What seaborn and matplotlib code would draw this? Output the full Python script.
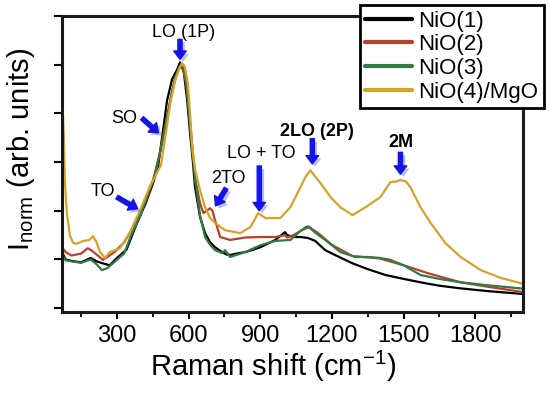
import pandas as pd
import seaborn as sns
import matplotlib.pyplot as plt
import matplotlib.patheffects as pe
from matplotlib.ticker import MultipleLocator, NullFormatter

# Raman spectra (shift in cm-1, normalised intensity)
nio1_x = [70, 85, 110, 150, 190, 215, 240, 270, 300, 340, 380, 420, 450, 472, 493, 510, 531, 552, 564,
          580, 594, 608, 618, 627, 648, 669, 690, 711, 740, 760, 774, 800, 837, 870, 900, 963, 1004,
          1012, 1040, 1068, 1100, 1130, 1172, 1230, 1286, 1350, 1424, 1500, 1592, 1650, 1731, 1850, 2000]
nio1_y = [1.15, 1.0, 0.97, 0.94, 1.03, 0.96, 0.92, 0.88, 1.03, 1.2, 1.7, 2.15, 2.55, 2.9, 3.65, 4.27, 4.7,
          4.9, 5.05, 4.85, 4.27, 3.5, 3.0, 2.48, 1.87, 1.54, 1.35, 1.25, 1.15, 1.1, 1.09, 1.12, 1.15, 1.2,
          1.25, 1.4, 1.56, 1.5, 1.46, 1.46, 1.44, 1.38, 1.19, 1.05, 0.92, 0.8, 0.68, 0.6, 0.51, 0.46, 0.41,
          0.35, 0.29]

nio2_x = [70, 85, 110, 150, 178, 195, 215, 241, 260, 290, 330, 380, 420, 450, 480, 500, 525, 545, 560, 572,
          590, 605, 618, 630, 648, 662, 690, 700, 711, 732, 774, 837, 900, 963, 1004, 1012, 1040, 1080,
          1105, 1140, 1200, 1286, 1400, 1500, 1600, 1739, 1850, 2000]
nio2_y = [1.25, 1.15, 1.08, 1.12, 1.23, 1.18, 1.1, 0.99, 1.05, 1.15, 1.35, 1.75, 2.2, 2.6, 3.2, 3.7, 4.3,
          4.75, 4.95, 5.02, 4.6, 3.9, 3.2, 2.6, 2.15, 1.95, 2.05, 2.0, 1.8, 1.46, 1.4, 1.45, 1.46, 1.46, 1.5,
          1.45, 1.5, 1.62, 1.66, 1.55, 1.3, 1.07, 1.02, 0.88, 0.72, 0.53, 0.44, 0.33]

nio3_x = [70, 85, 110, 150, 190, 215, 237, 260, 290, 330, 360, 397, 430, 460, 490, 510, 530, 550, 565, 578,
          592, 605, 618, 630, 648, 669, 690, 711, 740, 753, 774, 837, 900, 963, 1026, 1060, 1089, 1101,
          1130, 1172, 1236, 1298, 1350, 1403, 1445, 1500, 1571, 1650, 1739, 1850, 2000]
nio3_y = [1.1, 0.98, 0.96, 0.93, 1.0, 0.9, 0.78, 0.82, 0.95, 1.12, 1.5, 1.9, 2.35, 2.75, 3.4, 3.9, 4.45,
          4.8, 4.98, 5.0, 4.6, 3.8, 3.1, 2.55, 1.9, 1.46, 1.3, 1.19, 1.13, 1.19, 1.05, 1.15, 1.29, 1.38,
          1.4, 1.55, 1.66, 1.68, 1.55, 1.4, 1.15, 1.05, 1.05, 1.03, 0.99, 0.88, 0.68, 0.6, 0.53, 0.47, 0.4]

nio4_x = [70, 74, 78, 82, 90, 103, 115, 130, 160, 185, 200, 215, 229, 250, 270, 313, 355, 396, 438, 465,
          485, 505, 525, 545, 560, 572, 585, 597, 606, 615, 627, 648, 669, 690, 711, 753, 816, 858, 875,
          891, 921, 950, 984, 1026, 1068, 1090, 1110, 1130, 1152, 1194, 1236, 1286, 1340, 1403, 1445,
          1470, 1487, 1510, 1529, 1571, 1613, 1676, 1739, 1823, 1907, 2000]
nio4_y = [4.4, 4.0, 3.5, 2.6, 1.97, 1.5, 1.35, 1.32, 1.38, 1.4, 1.48, 1.35, 1.15, 1.03, 1.15, 1.23, 1.56,
          2.0, 2.5, 2.75, 2.95, 3.6, 4.25, 4.7, 4.9, 5.02, 4.95, 4.6, 4.0, 3.3, 2.85, 2.42, 2.07, 1.85,
          1.75, 1.6, 1.54, 1.66, 1.8, 1.95, 1.85, 1.85, 1.85, 2.07, 2.48, 2.7, 2.83, 2.7, 2.57, 2.28,
          2.07, 1.91, 2.07, 2.28, 2.59, 2.6, 2.63, 2.6, 2.48, 2.07, 1.75, 1.33, 1.05, 0.78, 0.62, 0.5]

labels = ["NiO(1)", "NiO(2)", "NiO(3)", "NiO(4)/MgO"]
colors = ["#000000", "#b8402c", "#2f7a45", "#d6a32a"]

# mode annotations: text, text pos, arrow tail, arrow tip, bold
modes = [
    ("LO (1P)", (577, 5.67), (564, 5.52), (564, 5.11), False),
    ("SO", (329, 3.90), (405, 3.90), (474, 3.60), False),
    ("TO", (241, 2.40), (300, 2.28), (386, 2.04), False),
    ("2TO", (766, 2.67), (757, 2.46), (713, 2.10), False),
    ("LO + TO", (904, 3.18), (896, 2.92), (896, 2.00), False),
    ("2LO (2P)", (1139, 3.63), (1118, 3.48), (1118, 2.96), True),
    ("2M", (1487, 3.41), (1487, 3.20), (1487, 2.75), True),
]

frames = []
for lab, xs, ys in zip(labels, [nio1_x, nio2_x, nio3_x, nio4_x], [nio1_y, nio2_y, nio3_y, nio4_y]):
    frames.append(pd.DataFrame({"shift": xs, "intensity": ys, "sample": lab}))
df = pd.concat(frames, ignore_index=True)

sns.set_style("white")
plt.rcParams["font.family"] = ["Liberation Sans", "DejaVu Sans"]
plt.rcParams["mathtext.fontset"] = "custom"
plt.rcParams["mathtext.rm"] = "Liberation Sans"
for k in ["text.color", "axes.labelcolor", "xtick.color", "ytick.color"]:
    plt.rcParams[k] = "black"

fig = plt.figure(figsize=(5.5, 3.96), dpi=100)
ax = fig.add_axes([62 / 550, 1 - 312 / 396, 461 / 550, 296 / 396])

sns.lineplot(data=df, x="shift", y="intensity", hue="sample", hue_order=labels,
             palette=colors, estimator=None, linewidth=1.6, ax=ax)

ax.set_xlim(70, 2000)
ax.set_ylim(-0.08, 6.0)
ax.xaxis.set_major_locator(MultipleLocator(300))
ax.xaxis.set_minor_locator(MultipleLocator(150))
ax.yaxis.set_major_locator(MultipleLocator(1))
ax.yaxis.set_major_formatter(NullFormatter())
ax.tick_params(axis="x", which="major", direction="out", length=5, width=1.5,
               labelsize=17, pad=4, bottom=True)
ax.tick_params(axis="x", which="minor", direction="out", length=3.5, width=1.3, bottom=True)
ax.tick_params(axis="y", which="major", direction="out", length=6, width=1.5, left=True)
for sp in ax.spines.values():
    sp.set_linewidth(2.2)
    sp.set_color("#1a1a1a")

ax.set_xlabel(r"Raman shift (cm$^{\mathregular{-1}}$)", fontsize=21)
ax.set_ylabel(r"$\mathregular{I_{norm}}$ (arb. units)", fontsize=21)
ax.xaxis.set_label_coords(0.458, -0.125)
ax.yaxis.set_label_coords(-0.055, 0.55)

shadow = [pe.SimplePatchShadow(offset=(2, -2), alpha=0.25), pe.Normal()]
for txt, tpos, tail, tip, bold in modes:
    ax.text(tpos[0], tpos[1], txt, fontsize=13, ha="center", va="center",
            fontweight="bold" if bold else "normal")
    ax.annotate("", xy=tip, xytext=tail,
                arrowprops=dict(arrowstyle="simple,head_length=0.6,head_width=0.9,tail_width=0.3",
                                mutation_scale=10, color="#1414e8", shrinkA=0, shrinkB=0,
                                path_effects=shadow))

leg = ax.legend(loc="upper right", bbox_to_anchor=(544 / 550, 1 - 5 / 396),
                bbox_transform=fig.transFigure, borderaxespad=0, fontsize=16,
                frameon=True, fancybox=False, framealpha=1, edgecolor="black",
                handlelength=2.1, handletextpad=0.3, labelspacing=0.12, borderpad=0.25)
leg.get_frame().set_linewidth(2)
for line in leg.get_lines():
    line.set_linewidth(3)

fig.savefig("out.png", dpi=100)
